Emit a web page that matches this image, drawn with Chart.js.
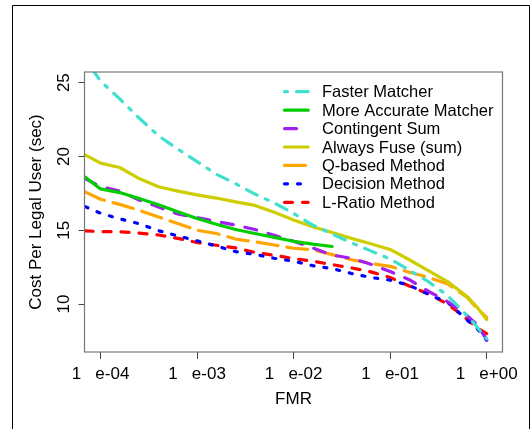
<!DOCTYPE html>
<html>
<head>
<meta charset="utf-8">
<script src="https://cdn.jsdelivr.net/npm/chart.js@4.4.1/dist/chart.umd.min.js"></script>
<style>
  html, body { margin: 0; padding: 0; background: #fff; }
  #wrap { width: 531px; height: 429px; position: relative; }
</style>
</head>
<body>
<div id="wrap"><canvas id="costChart" width="531" height="429"></canvas></div>
<script>
//x values (FMR) shared by every curve
const fmr = [6.92e-5, 1e-4, 1.58e-4, 2.51e-4, 3.98e-4, 6.31e-4, 1e-3, 1.58e-3, 2.51e-3, 3.98e-3, 6.31e-3,
    1e-2, 1.58e-2, 2.51e-2, 3.98e-2, 6.31e-2, 0.1, 0.158, 0.251, 0.398, 0.631, 0.794, 1.0];

//cost per legal user (sec) for each method
const fasterMatcher = [26.6, 25.1, 23.9, 22.6, 21.4, 20.5, 19.65, 18.8, 18.15, 17.45, 16.85, 16.14, 15.35, 14.75, 14.15, 13.6, 13.05, 12.3, 11.5, 10.55, 9.2, 8.45, 7.65];
const moreAccurate = [18.6, 17.8, 17.55, 17.15, 16.72, 16.25, 15.8, 15.4, 15.05, 14.78, 14.52, 14.25, 14.06, 13.9, null, null, null, null, null, null, null, null, null];
const contingentSum = [18.5, 17.95, 17.65, 17.05, 16.58, 16.1, 15.85, 15.6, 15.35, 15.05, 14.65, 14.25, 13.8, 13.32, 13.1, 12.7, 12.2, 11.65, 10.85, 10.15, 9.2, 8.6, 7.6];
const alwaysFuse = [20.1, 19.55, 19.25, 18.5, 17.95, 17.65, 17.4, 17.18, 16.92, 16.68, 16.22, 15.7, 15.23, 14.85, 14.45, 14.08, 13.7, 13.0, 12.25, 11.5, 10.5, 9.8, 8.95];
const qBased = [17.6, 17.1, 16.75, 16.35, 15.9, 15.45, 15.0, 14.78, 14.4, 14.22, 14.0, 13.78, 13.68, 13.35, 13.0, 12.75, 12.55, 12.15, 11.8, 11.35, 10.45, 9.7, 9.1];
const decisionMethod = [16.6, 16.15, 15.77, 15.44, 14.97, 14.62, 14.28, 13.93, 13.55, 13.36, 13.1, 12.9, 12.6, 12.4, 12.07, 11.8, 11.62, 11.27, 10.65, 10.1, 8.9, 8.36, 7.55];
const lRatio = [14.96, 14.9, 14.9, 14.8, 14.68, 14.45, 14.17, 13.98, 13.8, 13.5, 13.3, 13.08, 12.9, 12.67, 12.45, 12.18, 11.8, 11.22, 10.68, 9.98, 8.95, 8.38, 8.0];

const seriesNames = ['Faster Matcher', 'More Accurate Matcher', 'Contingent Sum', 'Always Fuse (sum)', 'Q-based Method', 'Decision Method', 'L-Ratio Method'];

//axis ticks
const xTicks = [1e-4, 1e-3, 1e-2, 1e-1, 1];
const xTickLabels = ['1   e-04', '1   e-03', '1   e-02', '1   e-01', '1   e+00'];
const yTicks = [10, 15, 20, 25];

const allSeries = [fasterMatcher, moreAccurate, contingentSum, alwaysFuse, qBased, decisionMethod, lRatio];
const colors = ['#40E0D0', '#00CD00', '#A020F0', '#CDCD00', '#FFA500', '#0000FF', '#FF0000'];
const dashes = [[3, 9, 12, 9], [], [12, 12], [], [21, 9], [3, 10], [8, 10]];

Chart.defaults.font.family = '"Liberation Sans", Arial, sans-serif';
Chart.defaults.font.size = 17;
Chart.defaults.color = '#000';

const datasets = allSeries.map((vals, i) => ({
    label: seriesNames[i],
    data: fmr.map((x, j) => ({x: x, y: vals[j]})),
    borderColor: colors[i],
    borderWidth: 3.2,
    borderDash: dashes[i],
    borderCapStyle: 'round',
    borderJoinStyle: 'round',
    pointRadius: 0,
    tension: 0,
    spanGaps: false,
    clip: 0
}));

//box around plot, outer frame and legend (R style, no legend box)
const rStyle = {
    id: 'rStyle',
    beforeDraw(chart) {
        const c = chart.ctx;
        c.save();
        c.strokeStyle = '#000';
        c.lineWidth = 1;
        c.beginPath();
        c.moveTo(12.5, 429);
        c.lineTo(12.5, 5.5);
        c.lineTo(529.5, 5.5);
        c.lineTo(529.5, 429);
        c.stroke();
        c.restore();
    },
    afterDatasetsDraw(chart) {
        const c = chart.ctx;
        const a = chart.chartArea;
        c.save();
        c.strokeStyle = '#777';
        c.lineWidth = 1.2;
        c.strokeRect(a.left, a.top, a.right - a.left, a.bottom - a.top);
        //legend
        c.font = '16.5px "Liberation Sans", Arial, sans-serif';
        c.textBaseline = 'middle';
        c.textAlign = 'left';
        chart.data.datasets.forEach((ds, i) => {
            const y = 91.7 + i * 18.43;
            c.strokeStyle = ds.borderColor;
            c.lineWidth = ds.borderWidth;
            c.lineCap = 'round';
            c.setLineDash(ds.borderDash);
            c.beginPath();
            c.moveTo(284.5, y);
            c.lineTo(308.2, y);
            c.stroke();
            c.setLineDash([]);
            c.fillStyle = '#000';
            c.fillText(ds.label, 322, y + 1);
        });
        c.restore();
    }
};

new Chart(document.getElementById('costChart'), {
    type: 'line',
    data: {datasets: datasets},
    options: {
        responsive: false,
        animation: false,
        layout: {padding: {top: 72, right: 28.5, left: 0, bottom: 0}},
        plugins: {legend: {display: false}, tooltip: {enabled: false}},
        scales: {
            x: {
                type: 'logarithmic',
                min: 6.82e-5,
                max: 1.46,
                afterFit: s => { s.height = 77; },
                afterBuildTicks: s => { s.ticks = xTicks.map(v => ({value: v})); },
                grid: {drawOnChartArea: false, drawTicks: true, tickLength: 7, color: '#444'},
                border: {display: false},
                ticks: {
                    autoSkip: false,
                    maxRotation: 0,
                    minRotation: 0,
                    padding: 5,
                    callback: (v, i) => xTickLabels[i]
                },
                title: {display: true, text: 'FMR', padding: {top: 0, bottom: 19}}
            },
            y: {
                type: 'linear',
                min: 6.75,
                max: 25.72,
                afterFit: s => { s.width = 84.5; },
                afterBuildTicks: s => { s.ticks = yTicks.map(v => ({value: v})); },
                grid: {drawOnChartArea: false, drawTicks: true, tickLength: 6, color: '#444'},
                border: {display: false},
                ticks: {
                    minRotation: 90,
                    maxRotation: 90,
                    crossAlign: 'center',
                    padding: 5,
                    callback: v => String(v)
                },
                title: {display: true, text: 'Cost Per Legal User (sec)', padding: {top: 26, bottom: 0}}
            }
        }
    },
    plugins: [rStyle]
});
</script>
</body>
</html>
